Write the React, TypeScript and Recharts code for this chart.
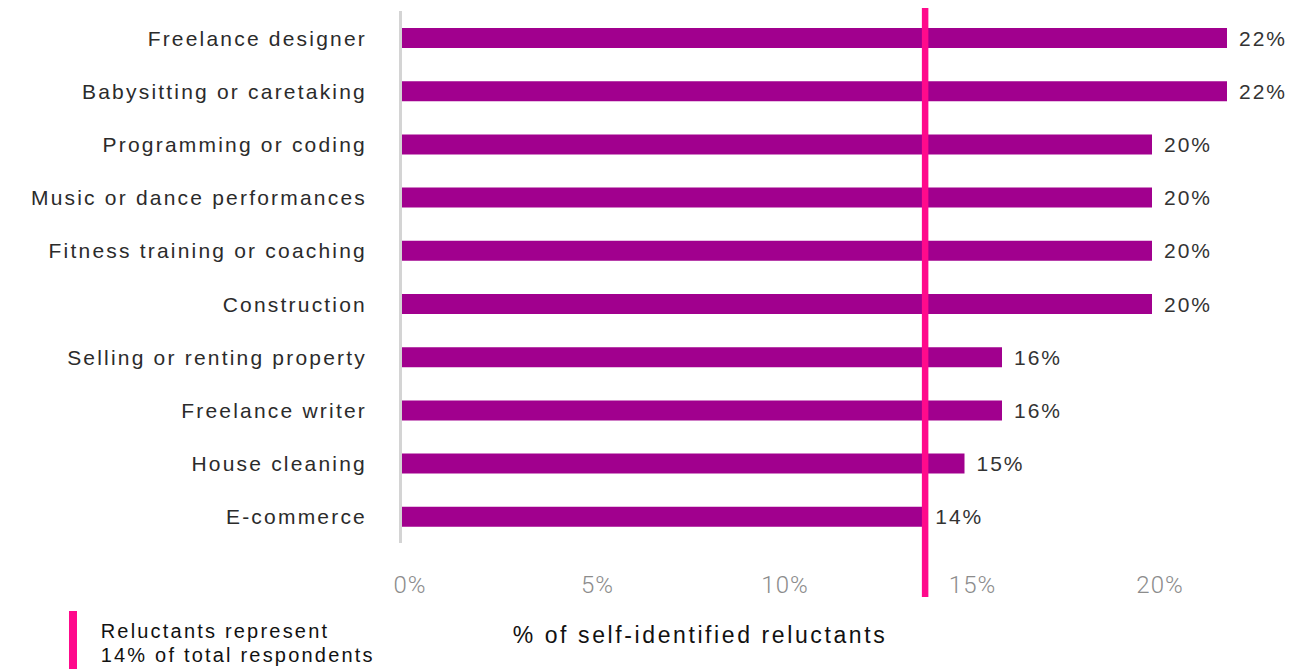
import React from 'react';
import { BarChart, Bar, XAxis, YAxis, ReferenceLine, LabelList, Legend } from 'recharts';

const categories = [
  'Freelance designer',
  'Babysitting or caretaking',
  'Programming or coding',
  'Music or dance performances',
  'Fitness training or coaching',
  'Construction',
  'Selling or renting property',
  'Freelance writer',
  'House cleaning',
  'E-commerce',
];
const shares = [22, 22, 20, 20, 20, 20, 16, 16, 15, 13.9];
const xTicks = [0, 5, 10, 15, 20];
const xDomain = [0, 24];
const reluctantShare = 13.95;
const axisTitle = '% of self-identified reluctants';
const legendLines = ['Reluctants represent', '14% of total respondents'];

const data = categories.map((name, i) => ({ name, share: shares[i] }));

const BAR_COLOR = '#a1008e';
const PINK = '#ff0a8c';
const SANS = '"Liberation Sans", Arial, sans-serif';

const YTick = (props: any) => {
  const { x, y, payload } = props;
  return (
    <text x={x} y={y} dy={8} textAnchor="end" fill="#2b2b2b" fontSize={21} fontFamily={SANS} style={{ letterSpacing: '2.2px' }}>
      {payload.value}
    </text>
  );
};

const XTick = (props: any) => {
  const { x, y, payload } = props;
  return (
    <text x={x + 8} y={y} dy={17} textAnchor="middle" fill="#8c8c8c" fontSize={24} fontWeight={300} fontFamily="Roboto, sans-serif" style={{ letterSpacing: '1px' }}>
      {`${payload.value}%`}
    </text>
  );
};

const ValueLabel = (props: any) => {
  const { x, y, width, height, value } = props;
  return (
    <text x={x + width + 12} y={y + height / 2} dy={7.5} textAnchor="start" fill="#333" fontSize={21} fontFamily={SANS} style={{ letterSpacing: '2px' }}>
      {`${Math.round(value)}%`}
    </text>
  );
};

const PinkLine = (props: any) => {
  const { x1, x2, y1, y2 } = props;
  const top = Math.min(y1, y2);
  const bottom = Math.max(y1, y2);
  return <line x1={x1} x2={x2} y1={top - 3} y2={bottom + 54} stroke={PINK} strokeWidth={6.5} />;
};

const LegendContent = () => (
  <div style={{ display: 'flex', alignItems: 'flex-start' }}>
    <div style={{ width: 8, height: 60, background: PINK, flex: 'none' }} />
    <div style={{ marginLeft: 23.7, paddingTop: 7.5, lineHeight: '24.4px', fontSize: 20, fontFamily: SANS, color: '#111', letterSpacing: '2.2px', whiteSpace: 'nowrap' }}>
      {legendLines.map((l) => (
        <div key={l}>{l}</div>
      ))}
    </div>
  </div>
);

export default function App() {
  return (
    <div style={{ position: 'absolute', left: 0, top: 0, width: 1304, height: 669, overflow: 'hidden', background: '#fff' }}>
      <BarChart
        width={1304}
        height={669}
        data={data}
        layout="vertical"
        margin={{ top: 11, right: 2, bottom: 0, left: 0 }}
      >
        <XAxis
          type="number"
          domain={xDomain}
          ticks={xTicks}
          tickLine={false}
          axisLine={false}
          tickSize={0}
          tickMargin={33}
          height={126}
          tick={<XTick />}
          label={{
            value: axisTitle,
            position: 'insideBottom',
            offset: 26,
            dx: -152,
            fill: '#111',
            fontSize: 23,
            fontFamily: SANS,
            style: { letterSpacing: '2.6px' },
          }}
        />
        <YAxis
          type="category"
          dataKey="name"
          width={402}
          tickLine={false}
          tickSize={0}
          tickMargin={35}
          axisLine={{ stroke: '#d4d4d4', strokeWidth: 3, transform: 'translate(-1.5,0)' }}
          tick={<YTick />}
          interval={0}
        />
        <Legend
          layout="horizontal"
          verticalAlign="middle"
          align="center"
          content={<LegendContent />}
          wrapperStyle={{ left: 69, top: 611, width: 400, height: 60 }}
        />
        <Bar dataKey="share" fill={BAR_COLOR} barSize={20} isAnimationActive={false}>
          <LabelList dataKey="share" content={<ValueLabel />} />
        </Bar>
        <ReferenceLine x={reluctantShare} stroke={PINK} strokeWidth={6.5} shape={<PinkLine />} ifOverflow="visible" />
      </BarChart>
    </div>
  );
}
